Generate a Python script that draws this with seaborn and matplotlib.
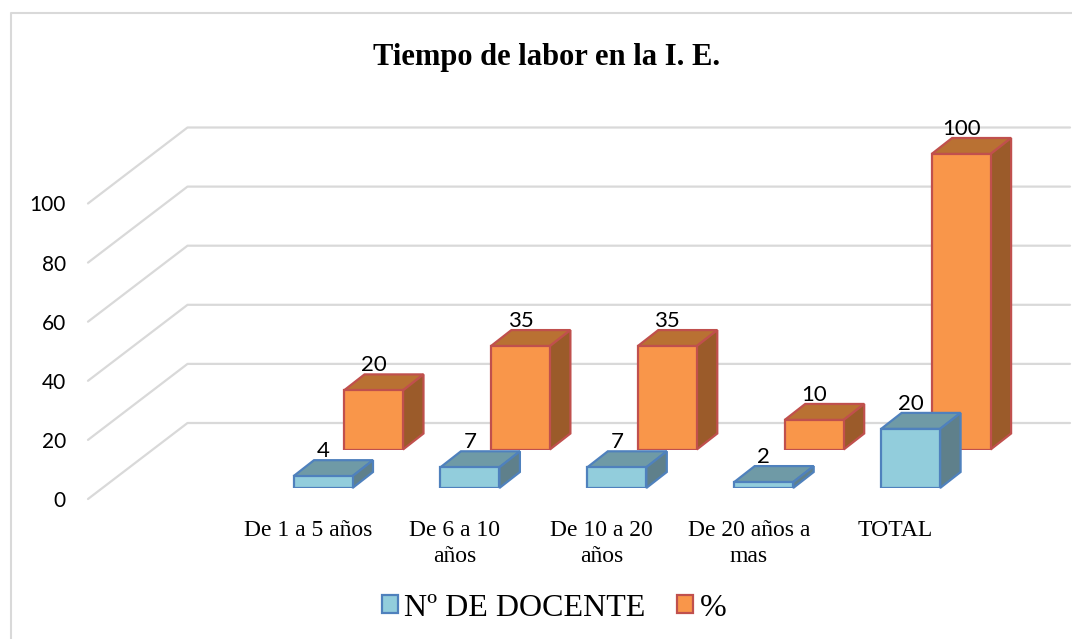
import matplotlib
matplotlib.use("Agg")
import matplotlib.pyplot as plt
from matplotlib.lines import Line2D
from matplotlib.patches import Patch
import seaborn as sns

categorias = ["De 1 a 5 años", "De 6 a 10\naños", "De 10 a 20\naños", "De 20 años a\nmas", "TOTAL"]
n_docente = [4, 7, 7, 2, 20]
porcentaje = [20, 35, 35, 10, 100]
ticks_y = [0, 20, 40, 60, 80, 100]

W, H = 1072, 639
PX_X = 146.9  # px per category
PX_Y = 2.955  # px per value unit
LEFT, RIGHT = 88, 1070
SANS = "Lato"
SERIF = "Liberation Serif"

sns.set_theme(style="white")

fig = plt.figure(figsize=(W / 100, H / 100), dpi=100)
fig.add_artist(Line2D([11 / W, 11 / W, 1], [0, 1 - 13 / H, 1 - 13 / H], transform=fig.transFigure,
                      color="#D9D9D9", linewidth=1.5))


def plano(c0, y0, zorder):
    """Axes where category 0 sits at px c0 and value 0 at px y0."""
    top = 40
    ax = fig.add_axes([LEFT / W, 1 - y0 / H, (RIGHT - LEFT) / W, (y0 - top) / H], zorder=zorder)
    ax.patch.set_visible(False)
    return ax, ((LEFT - c0) / PX_X, (RIGHT - c0) / PX_X), (0, (y0 - top) / PX_Y)


def barras_3d(c0, y0, valores, fill, edge, techo, lado, zorder):
    ax, xlim, ylim = plano(c0, y0, zorder)
    sns.barplot(x=list(range(len(valores))), y=valores, ax=ax, color=fill, saturation=1,
                width=59 / PX_X, edgecolor=edge, linewidth=1.6, zorder=3)
    dx, dy = 20.5 / PX_X, 16 / PX_Y
    for bar in ax.containers[0]:
        x0, x1, h = bar.get_x(), bar.get_x() + bar.get_width(), bar.get_height()
        ax.fill([x0, x0 + dx, x1 + dx, x1], [h, h + dy, h + dy, h], facecolor=techo,
                edgecolor=edge, linewidth=1.6, clip_on=False, zorder=2)
        ax.fill([x1, x1 + dx, x1 + dx, x1], [0, dy, h + dy, h], facecolor=lado,
                edgecolor=edge, linewidth=1.6, clip_on=False, zorder=2)
    ax.bar_label(ax.containers[0], labels=[str(v) for v in valores], padding=11,
                 fontsize=16, fontfamily=SANS, color="black", zorder=5)
    ax.set_xlim(*xlim)
    ax.set_ylim(*ylim)
    ax.axis("off")
    return ax


# wall, gridlines and axis labels
ax_wall, xlim, ylim = plano(308, 499, 1)
fondo_dx, fondo_dy = 99.5 / PX_X, 76 / PX_Y
for v in ticks_y:
    ax_wall.plot([xlim[0], xlim[0] + fondo_dx, xlim[1]], [v, v + fondo_dy, v + fondo_dy],
                 color="#D9D9D9", linewidth=1.6, clip_on=False)
ax_wall.set_xlim(*xlim)
ax_wall.set_ylim(*ylim)
ax_wall.set_xticks(range(len(categorias)))
ax_wall.set_xticklabels(categorias, fontfamily=SERIF, fontsize=17, linespacing=1.3, color="black")
ax_wall.tick_params(axis="x", length=0, pad=15)
ax_wall.set_yticks(ticks_y)
ax_wall.set_yticklabels(ticks_y, fontfamily=SANS, fontsize=15, color="black")
ax_wall.tick_params(axis="y", length=0, pad=16)
sns.despine(ax=ax_wall, left=True, bottom=True)

# % goes behind, docentes in front
barras_3d(373.5, 449.5, porcentaje, "#F9964A", "#C0504D", "#B97133", "#9B5B2A", 2)
barras_3d(323, 488, n_docente, "#92CDDC", "#4F81BD", "#6F9AA6", "#5F808B", 3)

fig.text(547 / W, 1 - 58 / H, "Tiempo de labor en la I. E.", ha="center", va="center",
         fontfamily=SERIF, fontweight="bold", fontsize=22, color="black")

handles = [Patch(facecolor="#92CDDC", edgecolor="#4F81BD", linewidth=1.6, label="Nº DE DOCENTE"),
           Patch(facecolor="#F9964A", edgecolor="#C0504D", linewidth=1.6, label="%")]
fig.legend(handles=handles, loc="center", bbox_to_anchor=(554 / W, 1 - 608 / H), ncol=2, frameon=False,
           prop={"family": SERIF, "size": 23}, handlelength=0.5, handleheight=0.5,
           handletextpad=0.2, columnspacing=1.0, labelcolor="black")

fig.savefig("out.png", dpi=100)
